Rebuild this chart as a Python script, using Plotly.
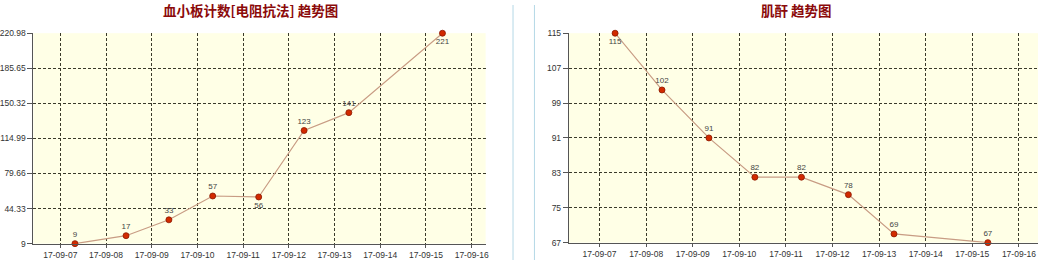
import plotly.graph_objects as go

W, H = 1041, 265

# ---- data ----
plt_title = "血小板计数[电阻抗法] 趋势图"
plt_times = ["2017-09-07 07:40", "2017-09-08 10:30", "2017-09-09 09:00", "2017-09-10 08:00",
             "2017-09-11 08:10", "2017-09-12 08:00", "2017-09-13 07:30", "2017-09-15 08:40"]
plt_values = [9, 17, 33, 57, 56, 123, 141, 221]
plt_labelpos = ["top center"] * 4 + ["bottom center"] + ["top center"] * 2 + ["bottom center"]
plt_yticks = [9, 44.33, 79.66, 114.99, 150.32, 185.65, 220.98]

cr_title = "肌酐 趋势图"
cr_times = ["2017-09-07 08:00", "2017-09-08 08:10", "2017-09-09 08:20", "2017-09-10 08:00",
            "2017-09-11 08:00", "2017-09-12 08:10", "2017-09-13 07:40", "2017-09-15 08:00"]
cr_values = [115, 102, 91, 82, 82, 78, 69, 67]
cr_labelpos = ["bottom center"] + ["top center"] * 7
cr_yticks = [67, 75, 83, 91, 99, 107, 115]

date_ticks = ["2017-09-%02d" % d for d in range(7, 17)]

# ---- styles ----
LINE = "#C89C84"
MARK = "#D22A00"
GRID = "#3A3A2A"
TICKFONT = dict(family="Liberation Sans, Arial", size=8.5, color="#333333")
LABFONT = dict(family="Liberation Sans, Arial", size=8, color="#444444")
TITLEFONT = dict(family="Noto Sans CJK SC", size=13.5, color="#8B0A0A", weight="bold")

fig = go.Figure()

def add_series(times, values, pos, xa, ya):
    fig.add_trace(go.Scatter(
        x=times, y=values, mode="lines+markers+text",
        text=[str(v) for v in values], textposition=pos, textfont=LABFONT,
        line=dict(color=LINE, width=1.2),
        marker=dict(color=MARK, size=6, line=dict(color="#8A1800", width=0.8)),
        cliponaxis=False, xaxis=xa, yaxis=ya, showlegend=False, hoverinfo="skip"))

add_series(plt_times, plt_values, plt_labelpos, "x", "y")
add_series(cr_times, cr_values, cr_labelpos, "x2", "y2")

def px(v):
    return v / W

def py(v):
    return 1 - v / H

common_x = dict(type="date", tickvals=date_ticks, tickformat="%y-%m-%d", tickfont=TICKFONT,
                showgrid=True, gridcolor=GRID, griddash="3px,2px", gridwidth=1,
                showline=True, linecolor="#555555", linewidth=1,
                ticks="outside", ticklen=3, tickcolor="#555555", zeroline=False, fixedrange=True)
common_y = dict(tickfont=TICKFONT, showgrid=True, gridcolor=GRID, griddash="3px,2px", gridwidth=1,
                showline=True, linecolor="#555555", linewidth=1,
                ticks="outside", ticklen=5, tickcolor="#555555", zeroline=False, fixedrange=True)

fig.update_layout(
    width=W, height=H, margin=dict(l=0, r=0, t=0, b=0),
    paper_bgcolor="white", plot_bgcolor="#FFFFE6",
    xaxis=dict(common_x, domain=[px(32.5), px(486.5)], anchor="y",
               range=["2017-09-06 09:50", "2017-09-16 07:20"]),
    yaxis=dict(common_y, domain=[py(248), py(29.3)], anchor="x",
               range=[plt_yticks[0] - 0.01, 221.05], tickvals=plt_yticks,
               ticktext=[("%g" % v) if v != int(v) else str(int(v)) for v in plt_yticks]),
    xaxis2=dict(common_x, domain=[px(570), 1.0], anchor="y2",
                range=["2017-09-06 08:10", "2017-09-16 09:50"]),
    yaxis2=dict(common_y, domain=[py(247), py(29.3)], anchor="x2",
                range=[cr_yticks[0] - 0.01, cr_yticks[-1] + 0.01], tickvals=cr_yticks),
    shapes=[
        dict(type="line", xref="paper", yref="paper", x0=px(514), x1=px(514), y0=0, y1=1,
             line=dict(color="#B4D8E6", width=1)),
        dict(type="line", xref="paper", yref="paper", x0=px(535.5), x1=px(535.5), y0=0, y1=1,
             line=dict(color="#B4D8E6", width=1)),
    ],
    annotations=[
        dict(text=plt_title, xref="paper", yref="paper", x=px(250), y=1, showarrow=False,
             xanchor="center", yanchor="top", borderpad=0, yshift=6, font=TITLEFONT),
        dict(text=cr_title, xref="paper", yref="paper", x=px(799), y=1, showarrow=False,
             xanchor="center", yanchor="top", borderpad=0, yshift=6, font=TITLEFONT),
    ],
)

fig.write_html("out.html")
